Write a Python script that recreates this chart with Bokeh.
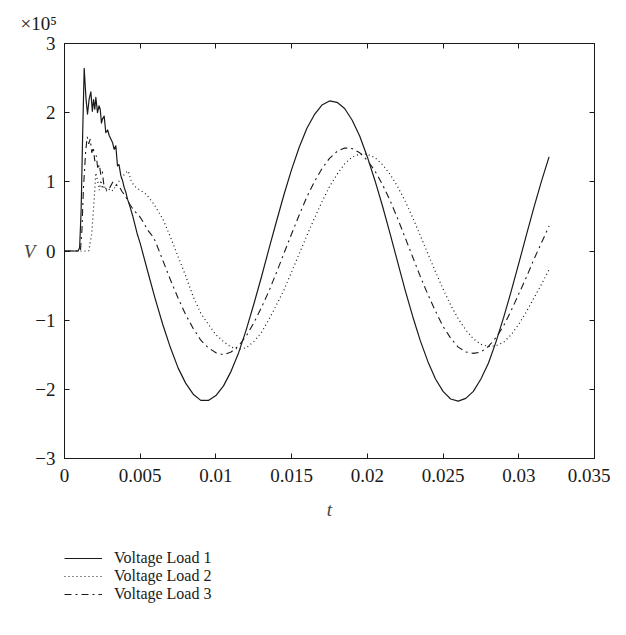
from bokeh.plotting import figure
from bokeh.models import Range1d, LinearAxis, FixedTicker, Legend, LegendItem, Title
from bokeh.layouts import column
from bokeh.embed import file_html
from bokeh.resources import INLINE

# ---------------- data (voltage in units of 1e5 V, time in s) ----------------
t_load1 = [0.0, 0.0009, 0.0010, 0.0011, 0.0012, 0.0013, 0.00142, 0.00152, 0.00163, 0.00174,
           0.00184, 0.00192, 0.00200, 0.00207, 0.00218, 0.00228, 0.00236, 0.00244, 0.00251, 0.00262,
           0.00273, 0.00285, 0.00295, 0.00306, 0.00317, 0.00328, 0.00339, 0.00350, 0.00360, 0.00372,
           0.00383, 0.00394, 0.00405, 0.00416, 0.00430, 0.00450, 0.00480, 0.00500,
           0.0055, 0.0060, 0.0065, 0.0070, 0.0075, 0.0080, 0.0085, 0.0090, 0.0095, 0.0100,
           0.0105, 0.0110, 0.0115, 0.0120, 0.0125, 0.0130, 0.0135, 0.0140, 0.0145, 0.0150,
           0.0155, 0.0160, 0.0165, 0.0170, 0.0175, 0.0180, 0.0185, 0.0190, 0.0195, 0.0200,
           0.0205, 0.0210, 0.0215, 0.0220, 0.0225, 0.0230, 0.0235, 0.0240, 0.0245, 0.0250,
           0.0255, 0.0260, 0.0265, 0.0270, 0.0275, 0.0280, 0.0285, 0.0290, 0.0295, 0.0300,
           0.0305, 0.0310, 0.0315, 0.0320]
v_load1 = [0.0, 0.0, 0.05, 0.60, 1.70, 2.64, 2.20, 1.98, 2.20, 2.30,
           2.02, 2.19, 2.05, 2.22, 2.00, 2.10, 2.05, 1.85, 1.91, 1.95,
           1.71, 1.75, 1.67, 1.62, 1.57, 1.47, 1.52, 1.23, 1.25, 1.09,
           1.02, 0.92, 0.85, 0.75, 0.66, 0.51, 0.25, 0.11,
           -0.30, -0.70, -1.07, -1.40, -1.69, -1.91, -2.07, -2.16, -2.16, -2.09,
           -1.95, -1.74, -1.47, -1.14, -0.77, -0.38, 0.03, 0.43, 0.82, 1.18,
           1.50, 1.77, 1.97, 2.11, 2.17, 2.15, 2.06, 1.89, 1.66, 1.36,
           1.02, 0.65, 0.25, -0.16, -0.57, -0.95, -1.30, -1.60, -1.85, -2.03,
           -2.14, -2.17, -2.13, -2.03, -1.85, -1.62, -1.31, -0.96, -0.58, -0.18,
           0.23, 0.63, 1.01, 1.36]

t_load2 = [0.0, 0.0016, 0.0018, 0.00196, 0.00207, 0.0022, 0.0023, 0.0024, 0.0025, 0.0026,
           0.0028, 0.0030, 0.0032, 0.0034, 0.0037, 0.0040, 0.0042, 0.0044, 0.0046, 0.0050,
           0.0054, 0.0059, 0.0065, 0.0070, 0.0075, 0.0080,
           0.0085, 0.0090, 0.0095, 0.0100, 0.0105, 0.0110, 0.0115, 0.0120, 0.0125, 0.0130,
           0.0135, 0.0140, 0.0145, 0.0150, 0.0155, 0.0160, 0.0165, 0.0170, 0.0175, 0.0180,
           0.0185, 0.0190, 0.0195, 0.0200, 0.0205, 0.0210, 0.0215, 0.0220, 0.0225, 0.0230,
           0.0235, 0.0240, 0.0245, 0.0250, 0.0255, 0.0260, 0.0265, 0.0270, 0.0275, 0.0280,
           0.0285, 0.0290, 0.0295, 0.0300, 0.0305, 0.0310, 0.0315, 0.0320]
v_load2 = [0.0, 0.0, 0.25, 0.75, 1.13, 1.00, 0.88, 1.02, 0.90, 0.95,
           0.86, 0.90, 0.87, 0.95, 1.04, 1.12, 1.16, 1.02, 0.94, 0.88,
           0.82, 0.68, 0.46, 0.20, -0.08, -0.36,
           -0.66, -0.90, -1.06, -1.21, -1.31, -1.39, -1.42, -1.40, -1.31, -1.18,
           -0.99, -0.78, -0.56, -0.30, -0.04, 0.22, 0.47, 0.71, 0.93, 1.11,
           1.26, 1.36, 1.40, 1.40, 1.35, 1.25, 1.11, 0.93, 0.72, 0.48,
           0.22, -0.04, -0.30, -0.55, -0.78, -0.98, -1.14, -1.27, -1.35, -1.38,
           -1.37, -1.32, -1.21, -1.06, -0.88, -0.68, -0.48, -0.27]

t_load3 = [0.0, 0.00105, 0.00115, 0.00125, 0.0014, 0.0015, 0.0016, 0.0017, 0.0018, 0.0019,
           0.0020, 0.0021, 0.0022, 0.0023, 0.0024, 0.0025, 0.0026, 0.0028, 0.0030, 0.0032,
           0.0034, 0.0036, 0.0038, 0.0040, 0.0043, 0.0046, 0.0049, 0.0052, 0.0055, 0.0058,
           0.0060, 0.0065, 0.0070, 0.0075, 0.0080, 0.0085, 0.0090, 0.0095, 0.0100, 0.0105,
           0.0110, 0.0115, 0.0120, 0.0125, 0.0130, 0.0135, 0.0140, 0.0145, 0.0150, 0.0155,
           0.0160, 0.0165, 0.0170, 0.0175, 0.0180, 0.0185, 0.0190, 0.0195, 0.0200, 0.0205,
           0.0210, 0.0215, 0.0220, 0.0225, 0.0230, 0.0235, 0.0240, 0.0245, 0.0250, 0.0255,
           0.0260, 0.0265, 0.0270, 0.0275, 0.0280, 0.0285, 0.0290, 0.0295, 0.0300, 0.0305,
           0.0310, 0.0315, 0.0320]
v_load3 = [0.0, 0.0, 0.30, 0.90, 1.45, 1.65, 1.55, 1.62, 1.42, 1.50,
           1.30, 1.38, 1.18, 1.25, 1.10, 1.15, 0.95, 0.88, 0.92, 1.00,
           0.95, 0.94, 0.86, 0.80, 0.68, 0.58, 0.52, 0.42, 0.30, 0.22,
           0.14, -0.14, -0.42, -0.68, -0.92, -1.12, -1.29, -1.40, -1.47, -1.50,
           -1.46, -1.37, -1.23, -1.04, -0.82, -0.58, -0.31, -0.03, 0.25, 0.52,
           0.78, 1.00, 1.19, 1.34, 1.44, 1.49, 1.48, 1.42, 1.31, 1.16,
           0.96, 0.73, 0.47, 0.19, -0.09, -0.37, -0.63, -0.87, -1.09, -1.26,
           -1.39, -1.46, -1.48, -1.46, -1.38, -1.25, -1.08, -0.86, -0.62, -0.38,
           -0.12, 0.12, 0.36]

series_names = ["Voltage Load 1", "Voltage Load 2", "Voltage Load 3"]

x_ticks = [0, 0.005, 0.01, 0.015, 0.02, 0.025, 0.03, 0.035]
x_tick_labels = ["0", "0.005", "0.01", "0.015", "0.02", "0.025", "0.03", "0.035"]
y_ticks = [-3, -2, -1, 0, 1, 2, 3]
y_tick_labels = ["\u22123", "\u22122", "\u22121", "0", "1", "2", "3"]
scale_label = "\u00d710\u2075"

FONT = "Liberation Serif"
FS = "19px"
LEG_FS = "16px"
INK = "#1a1a1a"

styles = [dict(line_color=INK, line_width=1.2, line_join="round"),
          dict(line_color=INK, line_width=1.2, line_dash="1 3"),
          dict(line_color=INK, line_width=1.1, line_dash="7 4 2 4")]

p = figure(frame_width=530, frame_height=415,
           x_range=Range1d(0, 0.035), y_range=Range1d(-3, 3),
           output_backend="svg", toolbar_location=None,
           min_border_left=64, min_border_right=16, min_border_top=43, min_border_bottom=72,
           background_fill_color="white", border_fill_color="white")
p.xgrid.visible = False
p.ygrid.visible = False
p.outline_line_color = INK
p.outline_line_width = 1

def style_axis(ax, ticks, labels, show_labels=True):
    ax.ticker = FixedTicker(ticks=ticks)
    ax.minor_tick_line_color = None
    ax.major_tick_in = 5
    ax.major_tick_out = 0
    ax.major_tick_line_color = INK
    ax.axis_line_color = INK
    ax.major_label_text_font = FONT
    ax.major_label_text_color = INK
    ax.major_label_text_font_size = FS
    if show_labels:
        ax.major_label_overrides = dict(zip(ticks, labels))
    else:
        ax.major_label_overrides = {tk: "" for tk in ticks}
        ax.major_label_standoff = 0

xa = p.xaxis[0]
style_axis(xa, x_ticks, x_tick_labels)
xa.major_label_standoff = 10
xa.axis_label = "t"
xa.axis_label_text_font = FONT
xa.axis_label_text_font_style = "italic"
xa.axis_label_text_font_size = FS
xa.axis_label_standoff = 14

ya = p.yaxis[0]
style_axis(ya, y_ticks, y_tick_labels)
ya.major_label_standoff = 9
ya.axis_label = "V"
ya.axis_label_text_font = FONT
ya.axis_label_text_font_style = "italic"
ya.axis_label_text_font_size = FS
ya.axis_label_orientation = "horizontal"
ya.axis_label_standoff = -3

top_ax = LinearAxis()
style_axis(top_ax, x_ticks, x_tick_labels, show_labels=False)
p.add_layout(top_ax, "above")
right_ax = LinearAxis()
style_axis(right_ax, y_ticks, y_tick_labels, show_labels=False)
p.add_layout(right_ax, "right")

# multiplier text at top-left, as a title
p.add_layout(Title(text=scale_label, align="left", offset=-44, standoff=20,
                   text_font=FONT, text_font_size=FS, text_font_style="normal",
                   text_color=INK), "above")

p.line(t_load1, v_load1, **styles[0])
p.line(t_load2, v_load2, **styles[1])
p.line(t_load3, v_load3, **styles[2])

# legend panel underneath the plot (its own copies of the series sit outside its view)
lg = figure(frame_width=530, frame_height=80, x_range=Range1d(1, 2), y_range=Range1d(0, 1),
            output_backend="svg", toolbar_location=None,
            min_border_left=64, min_border_right=16, min_border_top=0, min_border_bottom=0,
            background_fill_color="white", border_fill_color="white")
lg.axis.visible = False
lg.grid.visible = False
lg.outline_line_color = None
key_renderers = [lg.line(t_load1, v_load1, **styles[0]),
                 lg.line(t_load2, v_load2, **styles[1]),
                 lg.line(t_load3, v_load3, **styles[2])]

row_offsets = [43, 25, 7]
for name, r, yoff in zip(series_names, key_renderers, row_offsets):
    lg.add_layout(Legend(items=[LegendItem(label=name, renderers=[r])],
                         location=(0, yoff), orientation="vertical",
                         glyph_width=38, glyph_height=14, label_height=14, label_standoff=12,
                         spacing=0, padding=0, margin=0,
                         border_line_color=None, background_fill_alpha=0,
                         label_text_font=FONT, label_text_font_size=LEG_FS, label_text_color=INK),
                  "center")

layout = column(p, lg, spacing=0)
open("out.html", "w").write(file_html(layout, INLINE))
